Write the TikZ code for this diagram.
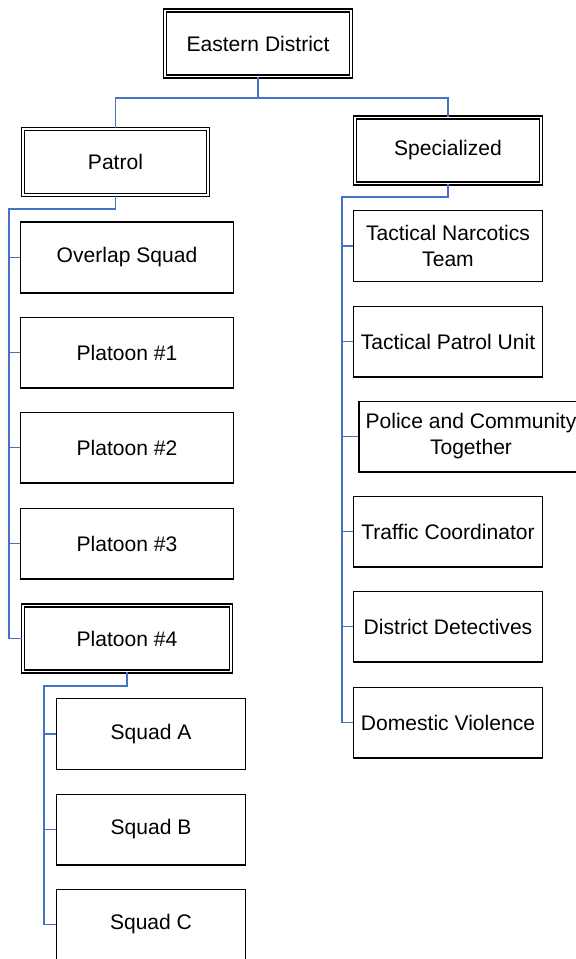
\documentclass[tikz,border=0pt]{standalone}
\usepackage{fontspec}
\setmainfont{Liberation Sans}
\definecolor{linkblue}{RGB}{68,114,196}
\tikzset{
  unit/.style={draw, line width=1pt, minimum width=142pt, minimum height=53pt,
    inner sep=0pt, align=center, font=\fontsize{15.8}{19.5}\selectfont},
  wide/.style={unit, minimum width=160pt},
  head/.style={double, double distance=1.4pt, line width=0.9pt,
    minimum width=139pt, minimum height=49.5pt},
  link/.style={draw=linkblue, line width=1.2pt}
}
\begin{document}
\begin{tikzpicture}[x=0.75pt, y=-0.75pt]
\useasboundingbox (0,0) rectangle (575,959);
% top
\node[unit, head] (ed) at (258,43.5) {Eastern District};
\node[unit, head] (patrol) at (115.5,162) {Patrol};
\node[unit, head] (spec) at (448,150.5) {Specialized};
\draw[link] (ed.south) -- ++(0,21) -| (patrol.north);
\draw[link] (ed.south) -- ++(0,21) -| (spec.north);
% patrol side
\node[wide] (overlap) at (127,257.5) {Overlap Squad};
\node[wide] (p1) at (127,352.5) {Platoon \#1};
\node[wide] (p2) at (127,447.5) {Platoon \#2};
\node[wide] (p3) at (127,543.5) {Platoon \#3};
\node[wide, head, minimum width=156pt] (p4) at (127,638.5) {Platoon \#4};
\coordinate (pbus) at (9,209);
\draw[link] (patrol.south) |- (pbus) |- (p4.west);
\foreach \n in {overlap,p1,p2,p3}
  \draw[link] (pbus |- \n.west) -- (\n.west);
% squads
\node[unit] (sqa) at (151,734) {Squad A};
\node[unit] (sqb) at (151,829.5) {Squad B};
\node[unit] (sqc) at (151,924.5) {Squad C};
\coordinate (qbus) at (44,686);
\draw[link] (p4.south) |- (qbus) |- (sqc.west);
\foreach \n in {sqa,sqb}
  \draw[link] (qbus |- \n.west) -- (\n.west);
% specialized side
\node[unit] (tnt) at (448,246) {Tactical Narcotics\\Team};
\node[unit] (tpu) at (448,341.5) {Tactical Patrol Unit};
\node[unit, minimum width=168pt] (pact) at (471,436.5) {Police and Community\\Together};
\node[unit] (tc) at (448,531.5) {Traffic Coordinator};
\node[unit] (dd) at (448,626.5) {District Detectives};
\node[unit] (dv) at (448,722.5) {Domestic Violence};
\coordinate (sbus) at (342,197);
\draw[link] (spec.south) |- (sbus) |- (dv.west);
\foreach \n in {tnt,tpu,pact,tc,dd}
  \draw[link] (sbus |- \n.west) -- (\n.west);
\end{tikzpicture}
\end{document}
